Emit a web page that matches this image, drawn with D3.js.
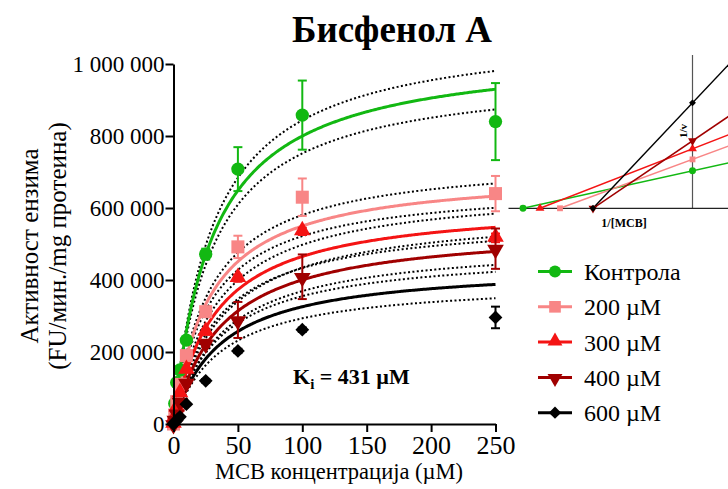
<!DOCTYPE html>
<html>
<head>
<meta charset="utf-8">
<script src="https://cdn.jsdelivr.net/npm/d3@7"></script>
<style>
  html, body { margin: 0; padding: 0; background: #fff; }
  svg { display: block; }
</style>
</head>
<body>
<svg id="chart" width="728" height="489" font-family="'Liberation Serif', 'Times New Roman', serif"></svg>
<script>
// MCB concentrations (µM)
const conc = [0, 1, 2.5, 5, 10, 25, 50, 100, 250];

// Mean enzyme activity (FU/min/mg protein) per bisphenol A concentration
const control  = [0, 57000, 115000, 150000, 233000, 472000, 708000, 858000, 840000];
const bpa200   = [0, 25000, 62000, 110000, 190000, 312000, 492000, 630000, 640000];
const bpa300   = [0, 18000, 45000, 85000, 150000, 256000, 405000, 535000, 517000];
const bpa400   = [0, 12000, 30000, 62000, 115000, 224000, 289000, 409000, 487000];
const bpa600   = [0, 5000, 10000, 20000, 55000, 120000, 203000, 262000, 296000];

// Standard deviations
const controlSD = [0, 0, 0, 0, 0, 15000, 61000, 96000, 107000];
const bpa200SD  = [0, 0, 0, 0, 0, 10000, 31000, 52000, 49000];
const bpa300SD  = [0, 0, 0, 0, 0, 8000, 10000, 10000, 12000];
const bpa400SD  = [0, 0, 0, 0, 0, 10000, 50000, 62000, 56000];
const bpa600SD  = [0, 0, 0, 0, 0, 5000, 6000, 6000, 30000];

// Michaelis-Menten fit parameters and confidence band limits
const fitVmax    = [1043000, 704000, 618000, 552000, 444000];
const fitKm      = [30.4, 28.0, 32.8, 37.9, 36.3];
const bandHiVmax = [1100000, 743000, 661000, 599000, 484000];
const bandLoVmax = [980000, 668000, 575000, 509000, 400000];

const seriesNames  = ["Контрола", "200 µM", "300 µM", "400 µM", "600 µM"];
const seriesColors = ["#12b812", "#f88686", "#f41414", "#a00000", "#000000"];
const seriesShapes = ["circle", "square", "triangle", "triangleDown", "diamond"];

// Lineweaver-Burk inset: x-intercepts (-1/Km, 1/µM) and y-intercepts (1/Vmax, ×10⁻⁶)
const lbXInt = [-0.0339, -0.0265, -0.0305, -0.0199, -0.0199];
const lbYInt = [1.016, 1.324, 1.611, 1.827, 2.854];

const yTicks = [0, 200000, 400000, 600000, 800000, 1000000];
const xTicks = [0, 50, 100, 150, 200, 250];

const means = [control, bpa200, bpa300, bpa400, bpa600];
const sds   = [controlSD, bpa200SD, bpa300SD, bpa400SD, bpa600SD];

const SERIF = "'Liberation Serif', 'Times New Roman', serif";
const svg = d3.select("#chart");

const x = d3.scaleLinear().domain([0, 250]).range([173.5, 495.5]);
const y = d3.scaleLinear().domain([0, 1000000]).range([424, 64]);

const fmt = v => d3.format(",")(v).replace(/,/g, " ");

function addText(parent) {
  return parent.append("text").style("font-family", SERIF).attr("fill", "#000");
}

function symbolPath(shape, size) {
  const map = {
    circle: d3.symbolCircle, square: d3.symbolSquare,
    triangle: d3.symbolTriangle, triangleDown: d3.symbolTriangle,
    diamond: d3.symbolSquare
  };
  return d3.symbol().type(map[shape]).size(size)();
}
function symbolTransform(shape, cx, cy, shift = 1) {
  if (shape === "triangleDown") return `translate(${cx},${cy + shift}) rotate(180)`;
  if (shape === "triangle") return `translate(${cx},${cy - shift})`;
  if (shape === "diamond") return `translate(${cx},${cy}) rotate(45)`;
  return `translate(${cx},${cy})`;
}
const mainSize = { circle: 140, square: 170, triangle: 120, triangleDown: 120, diamond: 95 };

// Title
addText(svg)
  .attr("x", 392).attr("y", 42)
  .attr("text-anchor", "middle")
  .style("font-size", "37px").style("font-weight", "bold")
  .text("Бисфенол А");

// Fitted curves and confidence bands
const xs = d3.range(0, 250.01, 1);
const mm = (vmax, km) => d3.line()
  .x(s => x(s))
  .y(s => y(vmax * s / (km + s)));

const curves = svg.append("g");
fitVmax.forEach((v, i) => {
  [bandHiVmax[i], bandLoVmax[i]].forEach(bv => {
    curves.append("path")
      .datum(xs)
      .attr("d", mm(bv, fitKm[i]))
      .attr("fill", "none")
      .attr("stroke", "#000")
      .attr("stroke-width", 2)
      .attr("stroke-dasharray", "2,2.4");
  });
});
fitVmax.forEach((v, i) => {
  curves.append("path")
    .datum(xs)
    .attr("d", mm(v, fitKm[i]))
    .attr("fill", "none")
    .attr("stroke", seriesColors[i])
    .attr("stroke-width", 3);
});

// Error bars and markers
means.forEach((vals, i) => {
  const g = svg.append("g");
  const col = seriesColors[i];
  vals.forEach((v, j) => {
    const sd = sds[i][j];
    if (sd > 0) {
      const cx = x(conc[j]);
      g.append("line").attr("x1", cx).attr("x2", cx)
        .attr("y1", y(v + sd)).attr("y2", y(v - sd))
        .attr("stroke", col).attr("stroke-width", 2);
      [v + sd, v - sd].forEach(e => {
        g.append("line").attr("x1", cx - 4.5).attr("x2", cx + 4.5)
          .attr("y1", y(e)).attr("y2", y(e))
          .attr("stroke", col).attr("stroke-width", 2);
      });
    }
  });
  vals.forEach((v, j) => {
    g.append("path")
      .attr("d", symbolPath(seriesShapes[i], mainSize[seriesShapes[i]]))
      .attr("transform", symbolTransform(seriesShapes[i], x(conc[j]), y(v)))
      .attr("fill", col);
  });
});

// Axes
const yAxis = svg.append("g").attr("transform", `translate(${x(0)},0)`)
  .call(d3.axisLeft(y).tickValues(yTicks).tickFormat(fmt).tickSize(8).tickSizeOuter(0));
const xAxis = svg.append("g").attr("transform", `translate(0,${y(0)})`)
  .call(d3.axisBottom(x).tickValues(xTicks).tickSize(8).tickSizeOuter(0));
[yAxis, xAxis].forEach(a => {
  a.attr("font-family", null);
  a.select(".domain").attr("stroke", "#000").attr("stroke-width", 2);
  a.selectAll(".tick line").attr("stroke", "#000").attr("stroke-width", 2);
  a.selectAll("text").attr("fill", "#000").style("font-family", SERIF);
});
yAxis.selectAll("text").style("font-size", "23px").attr("x", -9).attr("dy", "0.34em");
xAxis.selectAll("text").style("font-size", "26px").attr("y", 10).attr("dy", "0.75em");

// Axis titles
addText(svg)
  .attr("transform", "translate(38,246) rotate(-90)")
  .attr("text-anchor", "middle")
  .style("font-size", "25px")
  .text("Активност ензима");
addText(svg)
  .attr("transform", "translate(66,246) rotate(-90)")
  .attr("text-anchor", "middle")
  .style("font-size", "25px")
  .text("(FU/мин./mg протеина)");
addText(svg)
  .attr("x", 339).attr("y", 479)
  .attr("text-anchor", "middle")
  .style("font-size", "22.5px")
  .text("MCB концентрација (µM)");

// Inhibition constant
const ki = addText(svg)
  .attr("x", 293).attr("y", 384)
  .style("font-size", "22px").style("font-weight", "bold");
ki.append("tspan").text("K");
ki.append("tspan").attr("dy", 5).style("font-size", "15px").text("i");
ki.append("tspan").attr("dy", -5).text(" = 431 µM");

// Legend
const legend = svg.append("g");
seriesNames.forEach((name, i) => {
  const cy = 271.5 + i * 35.3;
  legend.append("line").attr("x1", 538).attr("x2", 572)
    .attr("y1", cy).attr("y2", cy)
    .attr("stroke", seriesColors[i]).attr("stroke-width", 3);
  legend.append("path")
    .attr("d", symbolPath(seriesShapes[i], mainSize[seriesShapes[i]] * 0.8))
    .attr("transform", symbolTransform(seriesShapes[i], 555, cy))
    .attr("fill", seriesColors[i]);
  addText(legend)
    .attr("x", 584).attr("y", cy).attr("dy", "0.35em")
    .style("font-size", "24px")
    .text(name);
});

// Lineweaver-Burk inset
const lx = d3.scaleLinear().domain([-0.0368, 0.0071]).range([508.5, 728]);
const ly = d3.scaleLinear().domain([0, 4.15]).range([208.3, 55]);
const inset = svg.append("g");
inset.append("line")
  .attr("x1", lx(0)).attr("x2", lx(0)).attr("y1", ly(0)).attr("y2", ly(4.15))
  .attr("stroke", "#555").attr("stroke-width", 1.2);
inset.append("line")
  .attr("x1", lx(-0.0368)).attr("x2", 728).attr("y1", ly(0)).attr("y2", ly(0))
  .attr("stroke", "#222").attr("stroke-width", 1.3);
const xEnd = 0.0075;
lbXInt.forEach((xi, i) => {
  const b = lbYInt[i];
  const slope = -b / xi;
  inset.append("line")
    .attr("x1", lx(xi)).attr("y1", ly(0))
    .attr("x2", lx(xEnd)).attr("y2", ly(b + slope * xEnd))
    .attr("stroke", seriesColors[i]).attr("stroke-width", 1.5);
});
lbXInt.forEach((xi, i) => {
  const sh = seriesShapes[i];
  const sz = sh === "circle" ? 38 : sh === "diamond" ? 24 : 34;
  [[xi, 0], [0, lbYInt[i]]].forEach(([px, py]) => {
    inset.append("path")
      .attr("d", symbolPath(sh, sz))
      .attr("transform", symbolTransform(sh, lx(px), ly(py), 0))
      .attr("fill", seriesColors[i]);
  });
});
addText(inset)
  .attr("transform", `translate(${lx(0) - 6},131) rotate(-90)`)
  .attr("text-anchor", "middle")
  .style("font-size", "11px").style("font-weight", "bold")
  .text("1/v");
addText(inset)
  .attr("x", 624).attr("y", 227)
  .attr("text-anchor", "middle")
  .style("font-size", "12px").style("font-weight", "bold")
  .text("1/[MCB]");
</script>
</body>
</html>
